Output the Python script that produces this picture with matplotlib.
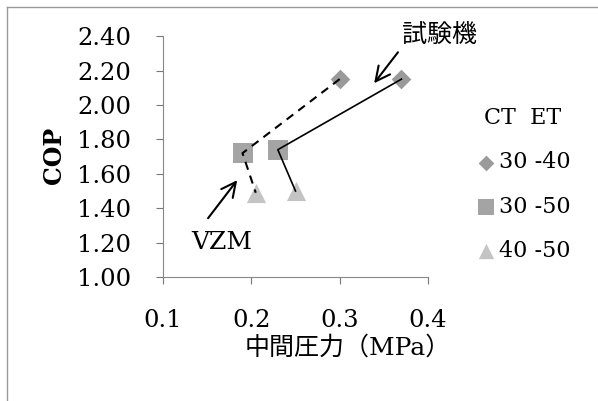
import matplotlib.pyplot as plt
from matplotlib.lines import Line2D

# intermediate pressure (MPa) and COP, order: CT30-ET40, CT30-ET50, CT40-ET50
pressure_vzm = [0.30, 0.19, 0.205]
cop_vzm = [2.15, 1.72, 1.49]
pressure_test = [0.37, 0.23, 0.25]
cop_test = [2.15, 1.74, 1.50]
cond_labels = ['30 -40', '30 -50', '40 -50']

if __name__ == "__main__":
    plt.rcParams['font.family'] = ['DejaVu Serif', 'Noto Sans CJK JP']

    fig = plt.figure(figsize=(5.98, 4.01), dpi=100)
    ax = fig.add_axes([0.2726, 0.309, 0.4431, 0.601])

    markers = ['D', 's', '^']
    colors = ['#9a9a9a', '#a4a4a4', '#c4c4c4']
    sizes = [100, 210, 190]
    handles = []
    for i in range(3):
        h = ax.scatter([pressure_vzm[i], pressure_test[i]], [cop_vzm[i], cop_test[i]],
                       marker=markers[i], s=sizes[i], c=colors[i], linewidths=0,
                       zorder=2, label=cond_labels[i])
        handles.append(h)

    ax.plot(pressure_vzm, cop_vzm, color='black', ls=(0, (4, 3)), lw=1.5, zorder=3)
    ax.plot(pressure_test, cop_test, color='black', ls='-', lw=1.2, zorder=3)

    ax.set_xlim(0.1, 0.4)
    ax.set_ylim(1.0, 2.4)
    ax.set_xticks([0.1, 0.2, 0.3, 0.4])
    ax.set_xticklabels(['0.1', '0.2', '0.3', '0.4'])
    ax.set_yticks([1.0, 1.2, 1.4, 1.6, 1.8, 2.0, 2.2, 2.4])
    ax.set_yticklabels(['%.2f' % v for v in ax.get_yticks()])
    ax.tick_params(labelsize=17.5, length=5, color='#777777', pad=18)
    for s in ['top', 'right']:
        ax.spines[s].set_visible(False)
    for s in ['left', 'bottom']:
        ax.spines[s].set_color('#888888')

    ax.set_ylabel('COP', fontsize=17, fontweight='bold')
    ax.yaxis.set_label_coords(-0.367, 0.506)
    ax.set_xlabel('中間圧力（MPa）', fontsize=18)
    ax.xaxis.set_label_coords(0.698, -0.245)

    # arrows pointing at the two curves
    ax.text(0.4125, 2.40, '試験機', fontsize=18, ha='center', va='center')
    ax.annotate('', xy=(0.339, 2.126), xytext=(0.366, 2.306), annotation_clip=False,
                arrowprops=dict(arrowstyle='->', lw=1.5, color='black',
                                mutation_scale=26, shrinkA=0, shrinkB=0))
    ax.text(0.167, 1.203, 'VZM', fontsize=18, ha='center', va='center')
    ax.annotate('', xy=(0.184, 1.563), xytext=(0.151, 1.342), annotation_clip=False,
                arrowprops=dict(arrowstyle='->', lw=1.5, color='black',
                                mutation_scale=26, shrinkA=0, shrinkB=0))

    fig.legend(handles=handles, loc='upper left', bbox_to_anchor=(0.76, 0.7825),
               frameon=False, fontsize=16, title='CT  ET', title_fontsize=16,
               labelspacing=1.0, handletextpad=0.1, handlelength=1.0,
               markerscale=0.8)

    # thin page border
    fig.add_artist(Line2D([7 / 598, 7 / 598], [0, 1 - 7 / 401], color='#999999', lw=1))
    fig.add_artist(Line2D([7 / 598, 1], [1 - 7 / 401, 1 - 7 / 401], color='#999999', lw=1))

    fig.savefig('out.png', dpi=100)
